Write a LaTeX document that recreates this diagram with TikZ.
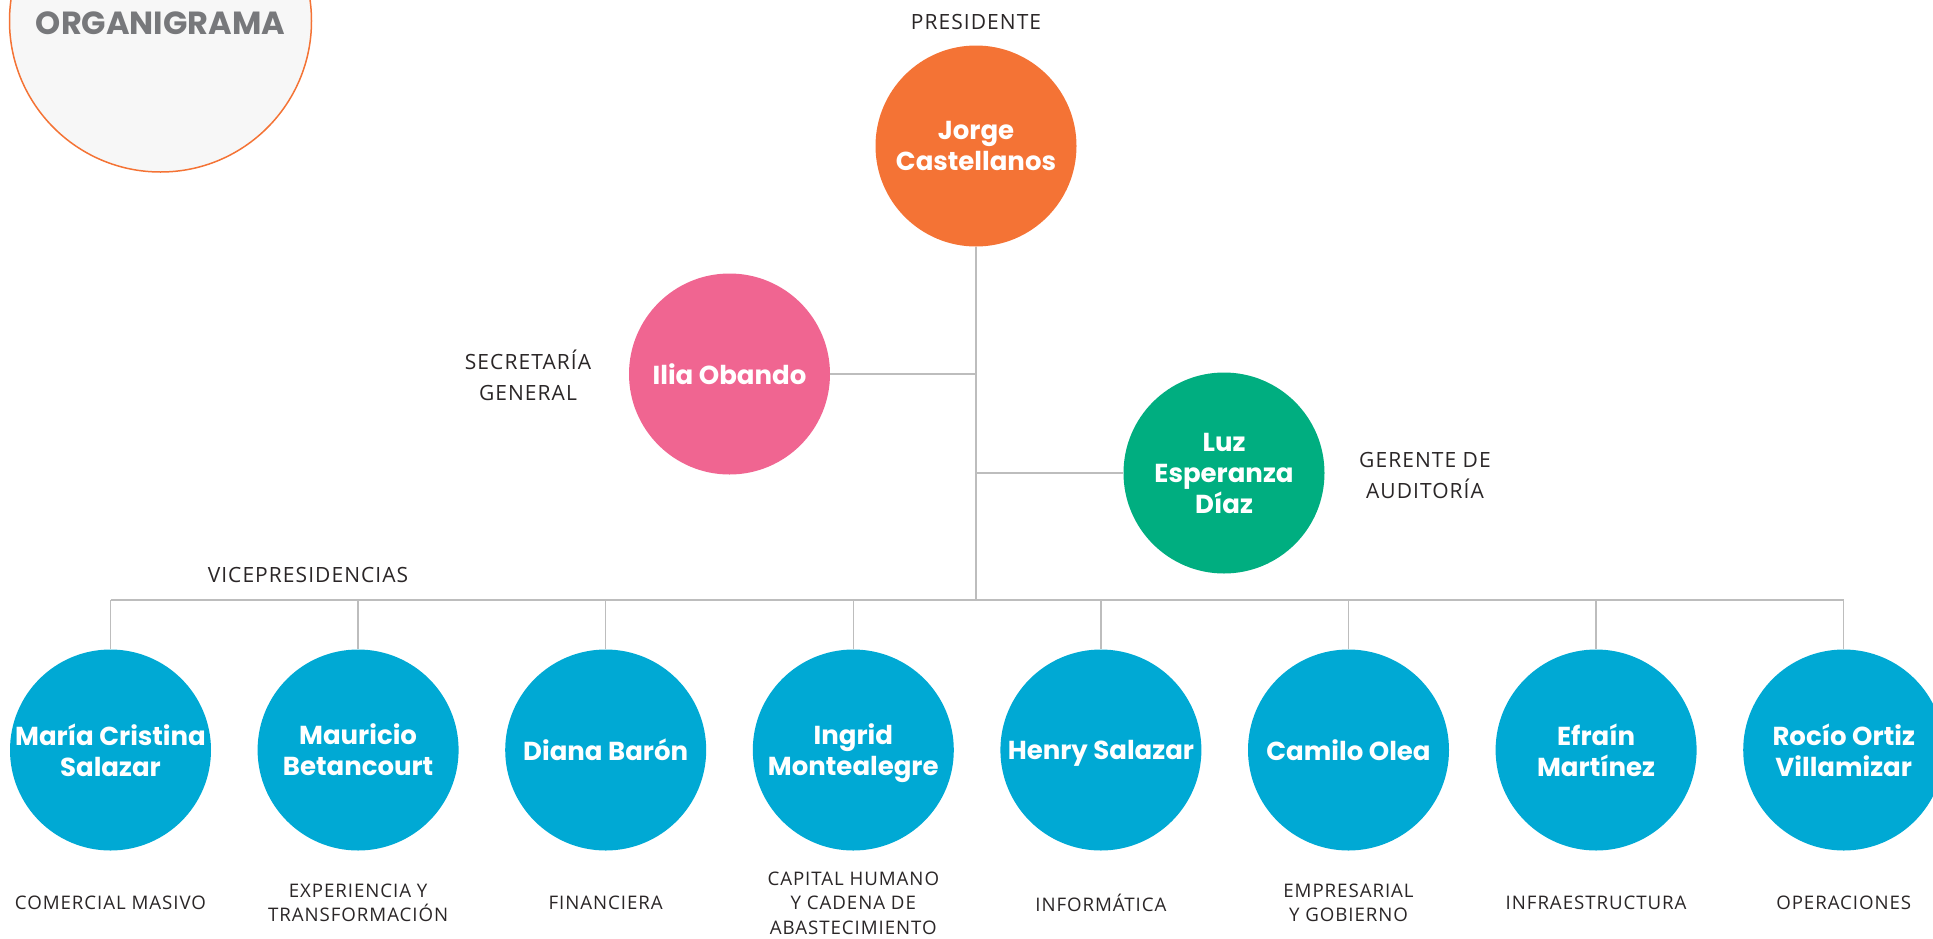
\documentclass[tikz,border=0pt]{standalone}
\usepackage{fontspec}
\newfontfamily\namefont{Poppins}
\newfontfamily\lblfont{Open Sans}[LetterSpace=5]
\definecolor{corange}{HTML}{F47335}
\definecolor{cpink}{HTML}{F06591}
\definecolor{cgreen}{HTML}{00AE80}
\definecolor{cblue}{HTML}{00A9D4}
\definecolor{cline}{HTML}{BDBDBD}
\definecolor{cgraytxt}{HTML}{77787B}
\definecolor{ctxt}{HTML}{2A2627}
\definecolor{cbg}{HTML}{F7F7F7}
\tikzset{
  person/.style={circle, minimum size=201pt, inner sep=0pt, text=white, align=center, text depth=0pt,
    font=\namefont\bfseries\fontsize{26}{31}\selectfont},
  roletxt/.style={align=center, text=ctxt, inner sep=0pt, font=\lblfont\fontsize{21}{31}\selectfont},
  vptxt/.style={align=center, text=ctxt, inner sep=0pt, font=\lblfont\fontsize{18.7}{24.5}\selectfont},
  link/.style={draw=cline, line width=1.5pt}
}
\begin{document}
\begin{tikzpicture}[x=1pt,y=-1pt]
\useasboundingbox (0,0) rectangle (1933,938);
\clip (0,0) rectangle (1933,938);
% title circle
\node[circle, minimum size=302pt, inner sep=0pt, fill=cbg, draw=corange, line width=1.5pt] (title) at (160.5,21) {};
\node[text=cgraytxt, font=\namefont\bfseries\fontsize{32}{32}\selectfont, inner sep=0pt] (titletxt) at (160.5,23) {ORGANIGRAMA};
% top level
\node[person, fill=corange] (pres) at (976,146) {Jorge\\Castellanos};
\node[roletxt] (presl) at (976,22) {PRESIDENTE};
\node[person, fill=cpink] (ilia) at (729.5,374) {Ilia Obando};
\node[roletxt] (ilial) at (528,375) {SECRETARÍA\\GENERAL};
\node[person, fill=cgreen] (luz) at (1224,473) {Luz\\Esperanza\\Díaz};
\node[roletxt] (luzl) at (1425,475) {GERENTE DE\\AUDITORÍA};
\node[roletxt] (vpl) at (308,575) {VICEPRESIDENCIAS};
% trunk
\coordinate (bar) at (976,600);
\coordinate (jIlia) at (976,374);
\coordinate (jLuz) at (976,473);
\draw[link] (pres.south) -- (bar);
\draw[link] (ilia.east) -- (jIlia);
\draw[link] (jLuz) -- (luz.west);
% VPs
\foreach \i/\nm/\lb in {
  0/{María Cristina\\Salazar}/{COMERCIAL MASIVO},
  1/{Mauricio\\Betancourt}/{EXPERIENCIA Y\\TRANSFORMACIÓN},
  2/{Diana Barón}/{FINANCIERA},
  3/{Ingrid\\Montealegre}/{CAPITAL HUMANO\\Y CADENA DE\\ABASTECIMIENTO},
  4/{Henry Salazar}/{INFORMÁTICA},
  5/{Camilo Olea}/{EMPRESARIAL\\Y GOBIERNO},
  6/{Efraín\\Martínez}/{INFRAESTRUCTURA},
  7/{Rocío Ortiz\\Villamizar}/{OPERACIONES}}{
  \node[person, fill=cblue] (vp\i) at ({110.5+247.6*\i},750) {\nm};
  \node[vptxt] (vpl\i) at ({110.5+247.6*\i},903) {\lb};
  \coordinate (t\i) at ({110.5+247.6*\i},600);
  \draw[link] (t\i) -- (vp\i.north);
}
\draw[link] (t0) -- (t7);
\end{tikzpicture}
\end{document}
